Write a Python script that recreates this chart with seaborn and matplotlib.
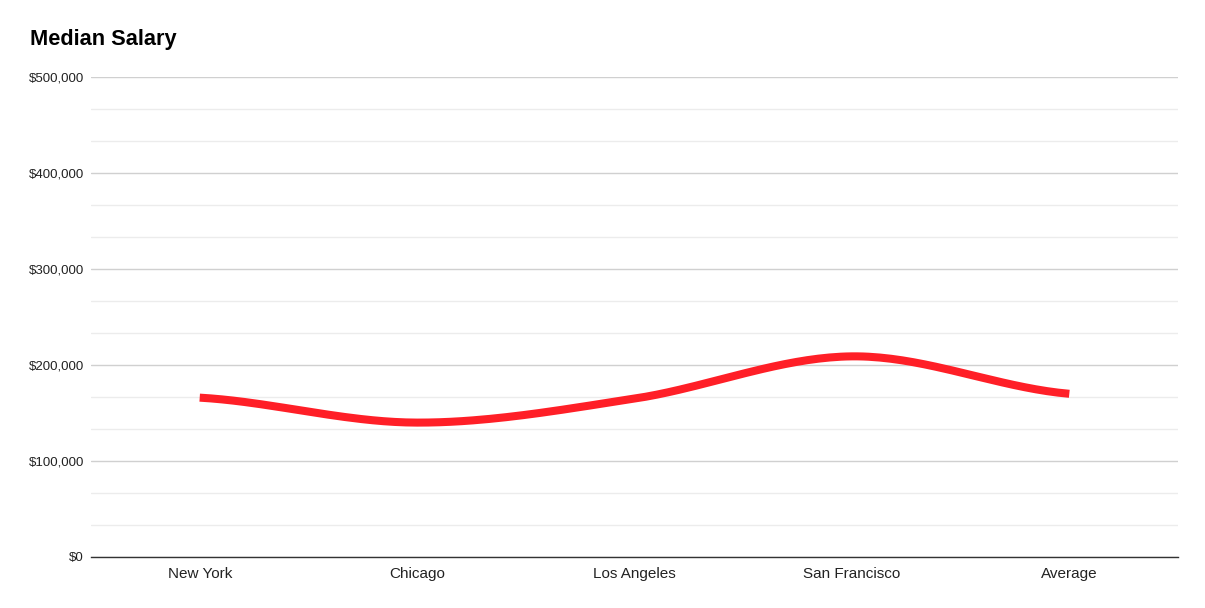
import numpy as np
import pandas as pd
import matplotlib
matplotlib.use("Agg")
import matplotlib.pyplot as plt
import seaborn as sns
from matplotlib.ticker import FuncFormatter, MultipleLocator

# Data
cities = ["New York", "Chicago", "Los Angeles", "San Francisco", "Average"]
salary = [166000, 140000, 165000, 209000, 170000]

sns.set_theme(style="white")
plt.rcParams['font.family'] = ['Liberation Sans', 'DejaVu Sans']

df = pd.DataFrame({"pos": np.arange(len(cities)), "salary": salary})

# Smooth curve (Catmull-Rom through the data points) for drawing only
def smooth(x, y, n=40):
    x = np.asarray(x, float)
    y = np.asarray(y, float)
    px = np.concatenate([[2 * x[0] - x[1]], x, [2 * x[-1] - x[-2]]])
    py = np.concatenate([[y[0]], y, [y[-1]]])
    xs, ys = [], []
    t = np.linspace(0, 1, n)
    for i in range(1, len(px) - 2):
        for p, out in ((px, xs), (py, ys)):
            p0, p1, p2, p3 = p[i - 1], p[i], p[i + 1], p[i + 2]
            out.append(0.5 * ((2 * p1) + (-p0 + p2) * t
                              + (2 * p0 - 5 * p1 + 4 * p2 - p3) * t ** 2
                              + (-p0 + 3 * p1 - 3 * p2 + p3) * t ** 3))
    return np.concatenate(xs), np.concatenate(ys)

sx, sy = smooth(df["pos"], df["salary"])
curve = pd.DataFrame({"pos": sx, "salary": sy})

fig = plt.figure(figsize=(12.05, 6.08), dpi=100)
ax = fig.add_axes([91 / 1205, 1 - 557 / 608, (1178 - 91) / 1205, (557 - 77) / 608])

sns.lineplot(data=curve, x="pos", y="salary", ax=ax, color="#ff1f27",
             linewidth=5.8, sort=False, estimator=None, solid_capstyle="butt")

ax.set_xlim(-0.5, len(cities) - 0.5)
ax.set_ylim(0, 500000)
ax.set_xticks(range(len(cities)))
ax.set_xticklabels(cities, fontsize=11, color="#222222")
ax.yaxis.set_major_locator(MultipleLocator(100000))
ax.yaxis.set_minor_locator(MultipleLocator(100000 / 3))
ax.yaxis.set_major_formatter(FuncFormatter(lambda v, _: f"${v:,.0f}"))
ax.tick_params(axis="y", labelsize=9.5, colors="#222222", length=0, pad=5)
ax.tick_params(axis="x", length=0, pad=7)
ax.grid(which="major", axis="y", color="#d0d0d0", linewidth=1)
ax.grid(which="minor", axis="y", color="#ececec", linewidth=1)
ax.set_axisbelow(True)
ax.set_xlabel("")
ax.set_ylabel("")
for s in ["top", "right", "left"]:
    ax.spines[s].set_visible(False)
ax.spines["bottom"].set_color("#333333")
ax.spines["bottom"].set_linewidth(1)

fig.text(30 / 1205, 1 - 39 / 608, "Median Salary", fontsize=15.7, fontweight="bold",
         color="#000000", va="center", ha="left")

fig.savefig("out.png", dpi=100)
